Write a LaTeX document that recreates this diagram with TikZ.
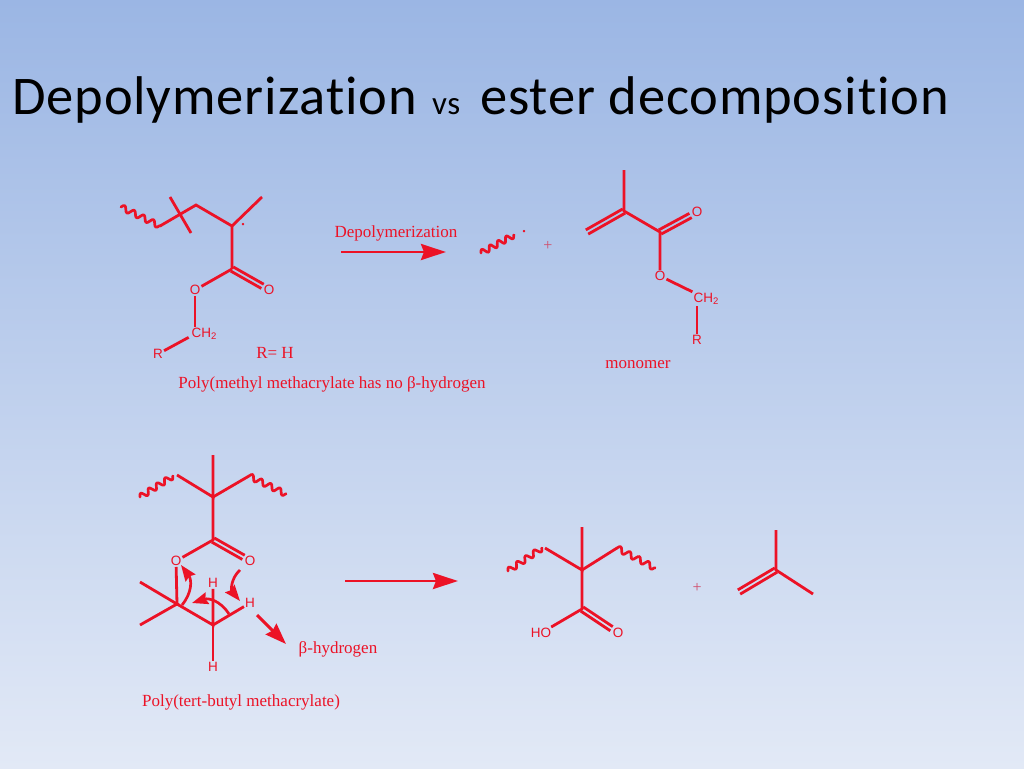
\documentclass[tikz,border=0pt]{standalone}
\usepackage{fontspec}
\setmainfont{Liberation Serif}
\newfontfamily\titlefont[Ligatures=NoCommon,LetterSpace=1.6]{Carlito}
\newfontfamily\atomfont{Liberation Sans}
\usetikzlibrary{arrows.meta,decorations}
\definecolor{chem}{RGB}{236,18,38}
\definecolor{skytop}{RGB}{155,182,228}
\definecolor{skybot}{RGB}{226,233,246}
\newcommand{\chtwo}{CH\raisebox{-2.5pt}{\fontsize{9.5}{9.5}\selectfont 2}}
\pgfdeclaredecoration{ripple}{go}{
  \state{go}[switch if less than=\pgfdecorationsegmentlength to last, width=\pgfdecorationsegmentlength]{
    \pgfpathcurveto{\pgfpoint{.18\pgfdecorationsegmentlength}{3.8pt}}{\pgfpoint{.32\pgfdecorationsegmentlength}{3.8pt}}{\pgfpoint{.5\pgfdecorationsegmentlength}{0pt}}
    \pgfpathcurveto{\pgfpoint{.68\pgfdecorationsegmentlength}{-3.8pt}}{\pgfpoint{.82\pgfdecorationsegmentlength}{-3.8pt}}{\pgfpoint{\pgfdecorationsegmentlength}{0pt}}
  }
  \state{last}[width=\pgfdecoratedremainingdistance]{\pgfpathlineto{\pgfpoint{\pgfdecoratedremainingdistance}{0pt}}}
  \state{final}{\pgfpathlineto{\pgfpointdecoratedpathlast}}
}

\begin{document}
\begin{tikzpicture}[x=1pt,y=-1pt]
  \tikzstyle{atom}=[text=chem, inner sep=1pt, font=\atomfont\fontsize{13.5}{13.5}\selectfont]
  \tikzstyle{caption}=[text=chem, inner sep=0pt, font=\fontsize{17}{19}\selectfont]
  \tikzstyle{plus}=[text=chem!65!skytop, inner sep=0pt, font=\fontsize{16}{16}\selectfont]
  \tikzstyle{spot}=[text=chem, inner sep=0pt, font=\fontsize{20}{20}\selectfont]
  \tikzstyle{heading}=[anchor=base west, inner sep=0pt, font=\titlefont\fontsize{54.5}{60}\selectfont]
  \tikzstyle{bond}=[draw=chem, line width=2.8pt]
  \tikzstyle{wave}=[draw=chem, line width=2.7pt, line join=round, line cap=round, decorate, decoration={ripple}]
  \tikzstyle{react}=[draw=chem, line width=2.8pt, -{Stealth[length=25pt, width=16pt, inset=3pt]}]
  \tikzstyle{curly}=[draw=chem, line width=2.7pt, -{Stealth[length=16pt, width=12pt, inset=2pt]}]
  \tikzset{off/.style={transform canvas={shift={#1}}}}

  % Background and title
  \path[use as bounding box, top color=skytop, bottom color=skybot] (0,0) rectangle (1024,768);
  \node[heading] (title1) at (12,114) {Depolymerization};
  \node[heading, font=\titlefont\fontsize{33}{33}\selectfont] (title2) at (432,114) {vs};
  \node[heading] (title3) at (480,114) {ester decomposition};

  % Poly(methyl methacrylate)
  \coordinate (w1a) at (121,207);
  \coordinate (w1b) at (160,226);
  \coordinate (c1) at (196,205);
  \coordinate (c2) at (232,226);
  \coordinate (me1) at (262,197);
  \coordinate (cut1) at (170,197);
  \coordinate (cut2) at (191,233);
  \coordinate (c3) at (232,269);
  \node[atom] (o1) at (195,290) {O};
  \node[atom] (o2) at (269,290) {O};
  \node[atom] (ch1) at (204,334) {\chtwo};
  \node[atom] (r1) at (158,354) {R};
  \node[spot] (dot1) at (243,225) {.};
  \draw[wave, decoration={segment length=10.7pt}] (w1a) -- (w1b);
  \draw[bond] (w1b) -- (c1) -- (c2) -- (c3);
  \draw[bond] (c2) -- (me1);
  \draw[bond] (cut1) -- (cut2);
  \draw[bond] (c3) -- (o1);
  \draw[bond, off={(1.2,-2.1)}] (c3) -- (o2);
  \draw[bond, off={(-1.2,2.1)}] (c3) -- (o2);
  \draw[bond] (o1) -- (o1 |- ch1.north);
  \draw[bond, shorten >=2pt] (r1) -- (ch1.190);
  \node[caption] (rh) at (275,353) {R= H};
  \node[caption] (pmma) at (332,384) {Poly(methyl methacrylate has no β-hydrogen};

  % Depolymerization arrow
  \node[caption] (dep) at (396,233) {Depolymerization};
  \coordinate (a1) at (341,252);
  \coordinate (a2) at (446,252);
  \draw[react] (a1) -- (a2);

  % Radical and monomer
  \coordinate (w2a) at (481,253);
  \coordinate (w2b) at (514,235);
  \draw[wave, decoration={segment length=9.3pt}] (w2a) -- (w2b);
  \node[spot] (dot2) at (524,232) {.};
  \node[plus] (plus1) at (548,246) {+};
  \coordinate (m1) at (624,170);
  \coordinate (m2) at (624,211);
  \coordinate (m3) at (587,232);
  \coordinate (m4) at (660,232);
  \node[atom] (o3) at (697,212) {O};
  \node[atom] (o4) at (660,276) {O};
  \node[atom] (ch2) at (706,299) {\chtwo};
  \node[atom] (r2) at (697,340) {R};
  \draw[bond] (m1) -- (m2) -- (m4) -- (o4);
  \draw[bond, off={(1.2,2.1)}] (m2) -- (m3);
  \draw[bond, off={(-1.2,-2.1)}] (m2) -- (m3);
  \draw[bond, off={(1.2,2.1)}] (m4) -- (o3);
  \draw[bond, off={(-1.2,-2.1)}] (m4) -- (o3);
  \draw[bond] (o4) -- (ch2.north west);
  \draw[bond] (r2 |- ch2.south) -- (r2);
  \node[caption] (mono) at (638,365) {monomer};

  % Poly(tert-butyl methacrylate)
  \coordinate (t1) at (213,455);
  \coordinate (t2) at (213,497);
  \coordinate (t3) at (177,475);
  \coordinate (t4) at (249,476);
  \coordinate (w3a) at (140,497);
  \coordinate (w3b) at (173,476);
  \coordinate (w4b) at (286,494);
  \coordinate (t5) at (213,540);
  \node[atom] (o5) at (176,561) {O};
  \node[atom] (o6) at (250,561) {O};
  \coordinate (t6) at (177,604);
  \coordinate (t7) at (140,582);
  \coordinate (t8) at (140,625);
  \coordinate (t9) at (213,625);
  \node[atom] (h1) at (213,583) {H};
  \node[atom] (h2) at (250,603) {H};
  \node[atom] (h3) at (213,667) {H};
  \draw[wave, decoration={segment length=9.7pt}] (w3a) -- (w3b);
  \draw[wave, decoration={segment length=10.2pt}] (t4) -- (w4b);
  \draw[bond] (t1) -- (t2) -- (t3);
  \draw[bond] (t2) -- (t4);
  \draw[bond] (t2) -- (t5) -- (o5) -- (t6);
  \draw[bond, off={(1.2,-2.1)}] (t5) -- (o6);
  \draw[bond, off={(-1.2,2.1)}] (t5) -- (o6);
  \draw[bond] (t7) -- (t6) -- (t8);
  \draw[bond] (t6) -- (t9) -- (h1);
  \draw[bond] (t9) -- (h2);
  \draw[bond] (t9) -- (h3);

  % Electron flow
  \coordinate (e1) at (182,605);
  \coordinate (e2) at (181,565);
  \coordinate (e3) at (240,570);
  \coordinate (e4) at (240,601);
  \coordinate (e5) at (229,614);
  \coordinate (e6) at (192,603);
  \coordinate (e7) at (257,615);
  \coordinate (e8) at (286,644);
  \draw[curly] (e1) .. controls (192,593) and (192,580) .. (e2);
  \draw[curly] (e3) .. controls (231,578) and (231,590) .. (e4);
  \draw[curly] (e5) .. controls (220,600) and (208,598) .. (e6);
  \draw[curly, line width=3pt, -{Stealth[length=21pt, width=15pt, inset=2pt]}] (e7) -- (e8);
  \node[caption] (beta) at (338,649) {β-hydrogen};
  \node[caption] (ptbma) at (241,702) {Poly(tert-butyl methacrylate)};

  % Ester decomposition arrow
  \coordinate (a3) at (345,581);
  \coordinate (a4) at (458,581);
  \draw[react] (a3) -- (a4);

  % Acid product
  \coordinate (p1) at (582,527);
  \coordinate (p2) at (582,570);
  \coordinate (p3) at (545,548);
  \coordinate (p4) at (617,548);
  \coordinate (w5a) at (508,571);
  \coordinate (w5b) at (542,548);
  \coordinate (w6b) at (655,568);
  \coordinate (p5) at (582,609);
  \node[atom] (ho) at (541,633) {HO};
  \node[atom] (o7) at (618,633) {O};
  \draw[wave, decoration={segment length=10.2pt}] (w5a) -- (w5b);
  \draw[wave, decoration={segment length=10.6pt}] (p4) -- (w6b);
  \draw[bond] (p1) -- (p2) -- (p3);
  \draw[bond] (p2) -- (p4);
  \draw[bond] (p2) -- (p5) -- (ho);
  \draw[bond, off={(1.2,-2.1)}] (p5) -- (o7);
  \draw[bond, off={(-1.2,2.1)}] (p5) -- (o7);

  % Isobutene
  \node[plus] (plus2) at (697,588) {+};
  \coordinate (i1) at (776,530);
  \coordinate (i2) at (776,570);
  \coordinate (i3) at (739,592);
  \coordinate (i4) at (813,594);
  \draw[bond] (i1) -- (i2) -- (i4);
  \draw[bond, off={(1.2,2.1)}] (i2) -- (i3);
  \draw[bond, off={(-1.2,-2.1)}] (i2) -- (i3);
\end{tikzpicture}
\end{document}
